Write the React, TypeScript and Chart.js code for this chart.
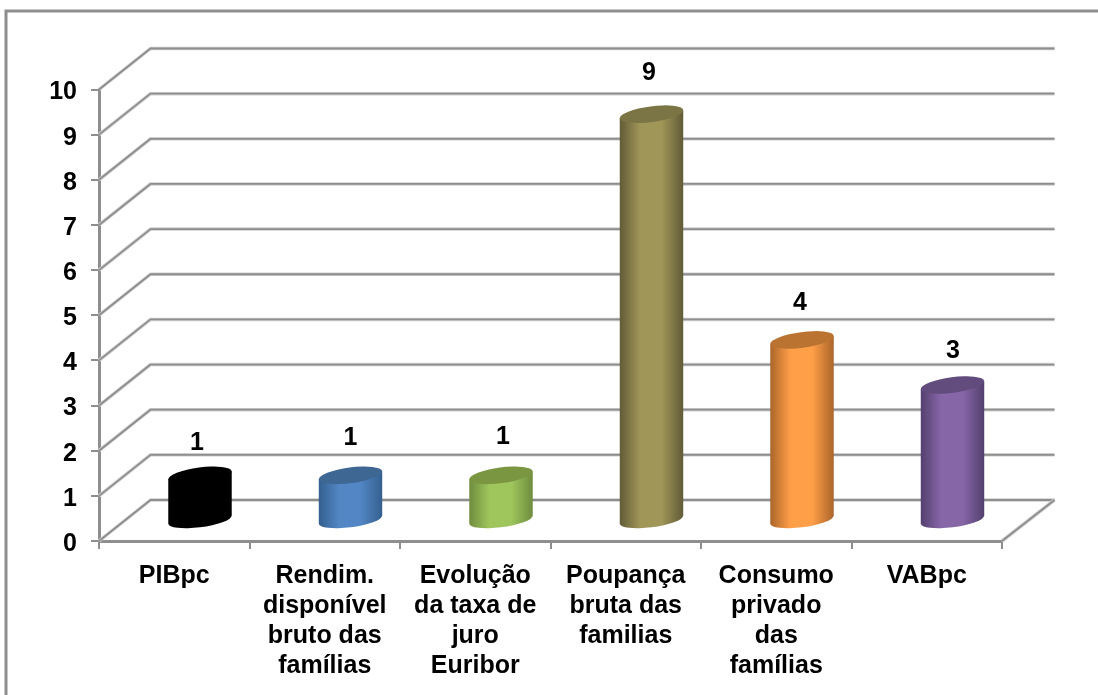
import React, { useEffect, useRef } from "react";
import { Chart, registerables } from "chart.js";

Chart.register(...registerables);

const categories = [
  ["PIBpc"],
  ["Rendim.", "disponível", "bruto das", "famílias"],
  ["Evolução", "da taxa de", "juro", "Euribor"],
  ["Poupança", "bruta das", "familias"],
  ["Consumo", "privado", "das", "famílias"],
  ["VABpc"],
];
const values = [1, 1, 1, 9, 4, 3];
const midColors = ["#000000", "#5286c4", "#9fc65c", "#a09658", "#ff9f48", "#8766a8"];
const edgeColors = ["#000000", "#34608f", "#6f8c3e", "#615b37", "#ab652a", "#53406e"];
const topColors = ["#000000", "#3e6793", "#7a9640", "#7b7444", "#ba7331", "#624c7e"];

const AXIS = "#8e8e8e";
const DEPTH_X = 51.5;
const DEPTH_Y = 41;
const FAMILY = "'Liberation Sans', Arial, sans-serif";
const LABEL_FONT = `bold 25px ${FAMILY}`;
const labelShiftX = [-3, 0, 2, -2.5, -2, 0.5];
const labelLift = [32, 37, 38, 41, 37, 34];

const frame = {
  id: "frame",
  beforeDraw(chart: any) {
    const { ctx } = chart;
    ctx.save();
    ctx.strokeStyle = AXIS;
    ctx.lineWidth = 3;
    ctx.beginPath();
    ctx.moveTo(6, chart.height);
    ctx.lineTo(6, 11);
    ctx.lineTo(chart.width, 11);
    ctx.stroke();
    ctx.restore();
  },
};

const walls = {
  id: "walls",
  beforeDatasetsDraw(chart: any) {
    const { ctx, chartArea, scales } = chart;
    const { left, right, bottom } = chartArea;
    const endX = right + DEPTH_X + 1;
    ctx.save();
    ctx.lineJoin = "round";
    const stroke = (draw: () => void) => {
      ctx.strokeStyle = "#cfcfcf";
      ctx.lineWidth = 3.5;
      ctx.beginPath();
      draw();
      ctx.stroke();
      ctx.strokeStyle = AXIS;
      ctx.lineWidth = 1.8;
      ctx.beginPath();
      draw();
      ctx.stroke();
    };
    for (const v of scales.y.ticks.map((t: any) => t.value)) {
      const y = scales.y.getPixelForValue(v);
      const bx = left + DEPTH_X;
      const by = y - DEPTH_Y;
      stroke(() => {
        ctx.moveTo(left, y);
        ctx.lineTo(bx, by);
        ctx.lineTo(endX, by);
      });
    }
    stroke(() => {
      ctx.moveTo(right, bottom);
      ctx.lineTo(endX, bottom - DEPTH_Y);
    });
    ctx.restore();
  },
};

const cylinders = {
  id: "cylinders",
  beforeDatasetDraw(chart: any, args: any) {
    const { ctx } = chart;
    const meta = args.meta;
    const theta = (-7.5 * Math.PI) / 180;
    const ry = 7.8;
    ctx.save();
    meta.data.forEach((bar: any, i: number) => {
      const { x, y, base, width } = bar.getProps(["x", "y", "base", "width"], true);
      const cx = x + DEPTH_X / 2;
      const yt = y - DEPTH_Y / 2;
      const yb = base - DEPTH_Y / 2;
      const rx = width / 2;
      const t0 = Math.atan2(-ry * Math.sin(theta), rx * Math.cos(theta));
      const ext = rx * Math.cos(t0) * Math.cos(theta) - ry * Math.sin(t0) * Math.sin(theta);
      const shoulder = rx * Math.cos(t0) * Math.sin(theta) + ry * Math.sin(t0) * Math.cos(theta);

      const g = ctx.createLinearGradient(cx - ext, 0, cx + ext, 0);
      g.addColorStop(0, edgeColors[i]);
      g.addColorStop(0.32, midColors[i]);
      g.addColorStop(0.66, midColors[i]);
      g.addColorStop(1, edgeColors[i]);
      ctx.fillStyle = g;
      ctx.beginPath();
      ctx.moveTo(cx + ext, yt + shoulder);
      ctx.ellipse(cx, yb, rx, ry, theta, t0, t0 + Math.PI);
      ctx.lineTo(cx - ext, yt - shoulder);
      ctx.closePath();
      ctx.fill();

      ctx.fillStyle = topColors[i];
      ctx.beginPath();
      ctx.ellipse(cx, yt, rx, ry, theta, 0, Math.PI * 2);
      ctx.fill();

      ctx.fillStyle = "#000000";
      ctx.font = LABEL_FONT;
      ctx.textAlign = "center";
      ctx.textBaseline = "middle";
      ctx.fillText(String(values[i]), cx + labelShiftX[i], yt - labelLift[i]);
    });
    ctx.restore();
    return false;
  },
};

export default function App() {
  const ref = useRef<HTMLCanvasElement>(null);

  useEffect(() => {
    document.body.style.margin = "0";
    document.body.style.background = "#ffffff";
    const chart = new Chart(ref.current as HTMLCanvasElement, {
      type: "bar",
      data: {
        labels: categories,
        datasets: [
          {
            data: values,
            backgroundColor: midColors,
            barPercentage: 0.425,
            categoryPercentage: 1,
          },
        ],
      },
      options: {
        responsive: false,
        animation: false,
        layout: { padding: { top: 89.5, right: 96, left: 0, bottom: 0 } },
        plugins: { legend: { display: false }, title: { display: false }, tooltip: { enabled: false } },
        scales: {
          x: {
            afterFit(scale: any) {
              scale.height = 154;
            },
            grid: { drawOnChartArea: false, drawTicks: true, tickLength: 8, color: AXIS, lineWidth: 2, offset: true },
            border: { display: true, color: AXIS, width: 3 },
            ticks: {
              color: "#000000",
              padding: 12,
              maxRotation: 0,
              autoSkip: false,
              font: { family: FAMILY, size: 25, weight: "bold", lineHeight: 1.2 },
            },
          },
          y: {
            min: 0,
            max: 10,
            afterFit(scale: any) {
              scale.width = 99;
            },
            grid: { drawOnChartArea: false, drawTicks: true, tickLength: 8, color: AXIS, lineWidth: 2 },
            border: { display: true, color: AXIS, width: 3 },
            ticks: {
              stepSize: 1,
              color: "#000000",
              padding: 14,
              labelOffset: 3,
              font: { family: FAMILY, size: 25, weight: "bold" },
            },
          },
        },
      },
      plugins: [frame, walls, cylinders],
    } as any);
    return () => chart.destroy();
  }, []);

  return <canvas ref={ref} width={1098} height={695} style={{ display: "block" }} />;
}
